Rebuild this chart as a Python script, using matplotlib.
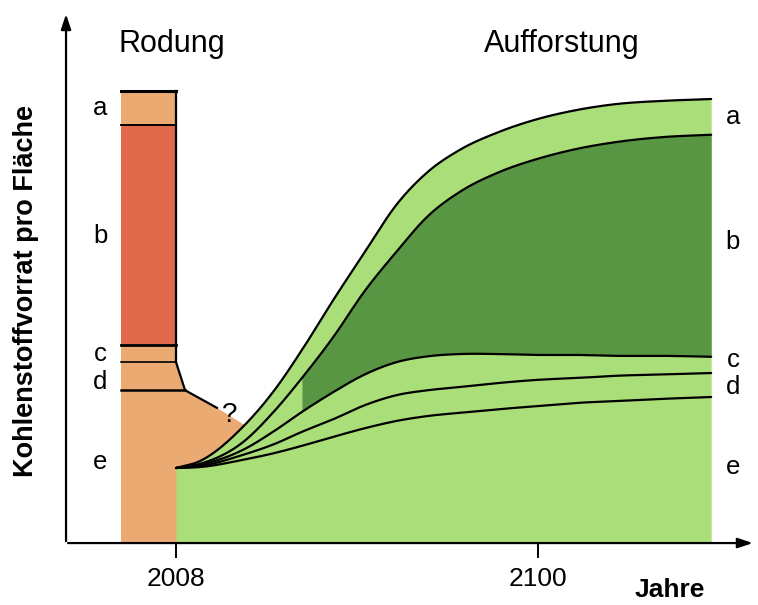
import numpy as np
import matplotlib.pyplot as plt
from matplotlib.patches import Polygon

# Rodung (clearing): stacked layer boundaries of the bar, arbitrary carbon units
bar_years = [1994, 2008]
bar_bounds = {"top": 100.0, "ab": 92.5, "bc": 43.8, "cd": 40.0, "de": 33.8}
# loss line after clearing (year, carbon)
loss_years = [2008, 2010.3, 2018.4, 2025.8]
loss_vals = [40.0, 33.8, 29.9, 25.9]

# Aufforstung (afforestation): upper boundaries of each layer
years = [2008, 2014, 2025, 2033, 2040, 2048, 2056, 2064, 2072, 2080, 2090, 2100, 2110, 2120, 2132, 2144]
curve_a = [16.6, 18.1, 25.7, 33.8, 42.7, 53.8, 64.4, 74.8, 82.1, 86.9, 90.9, 93.8, 95.8, 97.1, 97.8, 98.2]
curve_b = [16.6, 17.5, 22.3, 29.2, 36.5, 45.6, 55.8, 64.4, 72.3, 77.6, 82.0, 85.0, 87.2, 88.7, 89.8, 90.3]
curve_c = [16.6, 17.3, 20.6, 24.8, 29.0, 33.4, 37.3, 40.0, 41.3, 41.8, 41.8, 41.6, 41.6, 41.4, 41.4, 41.2]
curve_d = [16.6, 17.0, 19.5, 21.9, 24.6, 27.4, 30.5, 32.7, 33.8, 34.5, 35.4, 36.1, 36.5, 37.0, 37.3, 37.6]
curve_e = [16.6, 16.8, 18.4, 19.9, 21.5, 23.5, 25.4, 27.0, 28.1, 28.8, 29.6, 30.3, 31.0, 31.4, 31.9, 32.3]
dark_start = 2040

layer_names = ["a", "b", "c", "d", "e"]
left_label_y = [96.2, 67.9, 41.8, 35.6, 17.9]
right_label_y = [94.2, 66.6, 40.5, 34.5, 16.8]
tick_years = [2008, 2100]

light_orange = "#ECAA73"
dark_orange = "#E1694B"
light_green = "#AADE78"
dark_green = "#589644"


def smooth(xk, yk, xs):
    # cubic hermite through the read-off points, only for drawing a round line
    xk = np.asarray(xk, float)
    yk = np.asarray(yk, float)
    m = np.gradient(yk, xk)
    i = np.clip(np.searchsorted(xk, xs) - 1, 0, len(xk) - 2)
    h = xk[i + 1] - xk[i]
    t = (xs - xk[i]) / h
    h00 = 2 * t**3 - 3 * t**2 + 1
    h10 = t**3 - 2 * t**2 + t
    h01 = -2 * t**3 + 3 * t**2
    h11 = t**3 - t**2
    return h00 * yk[i] + h10 * h * m[i] + h01 * yk[i + 1] + h11 * h * m[i + 1]


plt.rcParams["font.family"] = ["Liberation Sans", "DejaVu Sans"]

fig = plt.figure(figsize=(7.58, 6.05), dpi=100)
ax = fig.add_axes([0, 0, 1, 1])
ax.set_xlim(1963.27, 2155.9)
ax.set_ylim(-13.7, 120.1)
ax.axis("off")

xs = np.linspace(years[0], years[-1], 600)
xs = np.union1d(xs, [dark_start])
curves = [smooth(years, c, xs) for c in (curve_a, curve_b, curve_c, curve_d, curve_e)]
ca, cb, cc, cd, ce = curves

# clearing bar
x0, x1 = bar_years
ax.fill_between([x0, x1], 0, bar_bounds["top"], color=light_orange, lw=0, zorder=1)
ax.fill_between([x0, x1], bar_bounds["bc"], bar_bounds["ab"], color=dark_orange, lw=0, zorder=1)
poly = list(zip(loss_years, loss_vals)) + [(loss_years[-1], 0), (x1, 0)]
ax.add_patch(Polygon(poly, closed=True, facecolor=light_orange, edgecolor="none", zorder=1))

ax.plot([x0, x1], [bar_bounds["top"]] * 2, color="black", lw=2.2, zorder=4)
ax.plot([x0, x1], [bar_bounds["ab"]] * 2, color="black", lw=1.4, zorder=4)
ax.plot([x0, x1], [bar_bounds["bc"]] * 2, color="black", lw=2.0, zorder=4)
ax.plot([x0, x1], [bar_bounds["cd"]] * 2, color="black", lw=1.2, zorder=4)
ax.plot([x0, loss_years[1]], [bar_bounds["de"]] * 2, color="black", lw=1.8, zorder=4)
ax.plot([x1, x1], [bar_bounds["top"], bar_bounds["cd"]], color="black", lw=1.6, zorder=4)
ax.plot(loss_years[:3], loss_vals[:3], color="black", lw=1.6, zorder=4)
ax.text(2021.5, 28.3, "?", fontsize=20, ha="center", va="center", zorder=5)

# afforestation layers
ax.fill_between(xs, 0, ca, color=light_green, lw=0, zorder=2)
m = xs >= dark_start
ax.fill_between(xs[m], cc[m], cb[m], color=dark_green, lw=0, zorder=2)
for c in curves:
    ax.plot(xs, c, color="black", lw=1.6, zorder=3, solid_capstyle="round")

# axes with arrows
y_axis_x = 1980.05
ax.annotate("", xy=(2155.3, 0), xytext=(y_axis_x - 0.2, 0),
            arrowprops=dict(arrowstyle="-|>,head_length=0.9,head_width=0.3", color="black", lw=1.6))
ax.annotate("", xy=(y_axis_x, 117.6), xytext=(y_axis_x, -0.2),
            arrowprops=dict(arrowstyle="-|>,head_length=0.9,head_width=0.3", color="black", lw=1.6))
for t in tick_years:
    ax.plot([t, t], [0, -3.1], color="black", lw=1.4)
    ax.text(t, -7.9, str(t), fontsize=19, ha="center", va="center")
ax.text(2133.5, -10.4, "Jahre", fontsize=19, fontweight="bold", ha="center", va="center")
ax.text(1969.8, 55.7, "Kohlenstoffvorrat pro Fläche", fontsize=19.5, fontweight="bold",
        rotation=90, ha="center", va="center")

ax.text(2007.0, 110.3, "Rodung", fontsize=22, ha="center", va="center")
ax.text(2106.1, 110.3, "Aufforstung", fontsize=22, ha="center", va="center")

for name, yl, yr in zip(layer_names, left_label_y, right_label_y):
    ax.text(1988.7, yl, name, fontsize=18.5, ha="center", va="center")
    ax.text(2149.5, yr, name, fontsize=18.5, ha="center", va="center")

fig.savefig("out.png", dpi=100, facecolor="white")
